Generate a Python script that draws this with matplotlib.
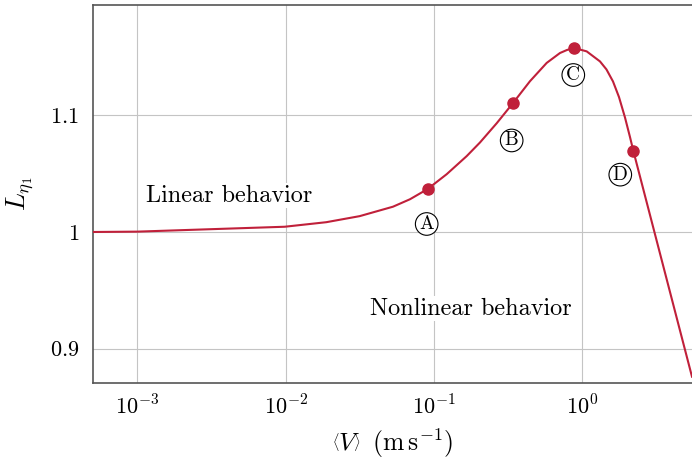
"""
recreates the L_eta1 versus mean velocity chart
"""

import matplotlib.pyplot as plt
from matplotlib.ticker import FixedLocator, FixedFormatter, NullLocator

# curve
velocity = [5.03e-4, 1.0e-3, 9.85e-3, 0.01877, 0.03152, 0.05284, 0.06881,
            0.09055, 0.1216, 0.1658, 0.2038, 0.2641, 0.3385, 0.4428, 0.5738,
            0.7053, 0.7863, 0.8806, 1.0674, 1.3117, 1.4508, 1.6055, 1.7619,
            1.9336, 2.0897, 2.1993, 2.9999, 4.0102, 5.470]
l_eta = [1.000, 1.0003, 1.0045, 1.0084, 1.0136, 1.0217, 1.0281,
         1.0369, 1.0496, 1.0651, 1.0768, 1.0933, 1.1103, 1.1294, 1.1451,
         1.1536, 1.1562, 1.1579, 1.1550, 1.1464, 1.1395, 1.1292, 1.1158,
         1.0983, 1.0815, 1.0698, 1.0037, 0.9419, 0.8758]

# marked points
point_names = ["A", "B", "C", "D"]
point_v = [0.09055, 0.3385, 0.8806, 2.1993]
point_l = [1.0369, 1.1103, 1.1579, 1.0698]

x_ticks = [1e-3, 1e-2, 1e-1, 1e0]
x_tick_labels = [r"$10^{-3}$", r"$10^{-2}$", r"$10^{-1}$", r"$10^{0}$"]
y_ticks = [0.9, 1.0, 1.1]
y_tick_labels = [r"$0.9$", r"$1$", r"$1.1$"]

red = "#c0203a"

plt.rcParams["font.family"] = "serif"
plt.rcParams["font.serif"] = ["cmr10", "DejaVu Serif"]
plt.rcParams["mathtext.fontset"] = "cm"
plt.rcParams["axes.formatter.use_mathtext"] = True

fig = plt.figure(figsize=(6.92, 4.61), dpi=100)
ax = fig.add_axes([93 / 692, 78 / 461, 599 / 692, 378 / 461])

ax.set_xscale("log")
ax.set_xlim(5.03e-4, 5.47)
ax.set_ylim(0.8704, 1.1948)

ax.plot(velocity, l_eta, color=red, lw=1.5, zorder=3)
ax.plot(point_v, point_l, "o", color=red, ms=8, zorder=4)

# circled letters below/left of each point
offsets = [(-1, -35), (-1, -37), (-1, -27), (-13, -24)]
for name, v, l, off in zip(point_names, point_v, point_l, offsets):
    ax.annotate(name, (v, l), xytext=off, textcoords="offset pixels",
                ha="center", va="center", fontsize=14, zorder=5,
                bbox=dict(boxstyle="circle,pad=0.12", fc="white", ec="black", lw=0.8))

ax.text(0.00415, 1.0312, "Linear behavior", ha="center", va="center",
        fontsize=17.5, zorder=5,
        bbox=dict(fc="white", ec="none", pad=1))
ax.text(0.1773, 0.9342, "Nonlinear behavior", ha="center", va="center",
        fontsize=17.5, zorder=5,
        bbox=dict(fc="white", ec="none", pad=1))

ax.xaxis.set_major_locator(FixedLocator(x_ticks))
ax.xaxis.set_major_formatter(FixedFormatter(x_tick_labels))
ax.xaxis.set_minor_locator(NullLocator())
ax.yaxis.set_major_locator(FixedLocator(y_ticks))
ax.yaxis.set_major_formatter(FixedFormatter(y_tick_labels))

ax.grid(True, color="#c4c4c4", lw=0.8, zorder=0)
ax.set_axisbelow(True)
ax.tick_params(length=0, labelsize=16)
ax.tick_params(axis="x", pad=8)
ax.tick_params(axis="y", pad=10)

for side in ["left", "bottom", "top"]:
    ax.spines[side].set_color("#555555")
    ax.spines[side].set_linewidth(1.2)
ax.spines["right"].set_visible(False)

ax.set_xlabel(r"$\left\langle V\right\rangle\;\;(\mathrm{m\,s^{-1}})$", fontsize=18.5, labelpad=6)
ax.set_ylabel(r"$L_{\eta_1}$", fontsize=19, labelpad=10)

fig.savefig("out.png", dpi=100)
